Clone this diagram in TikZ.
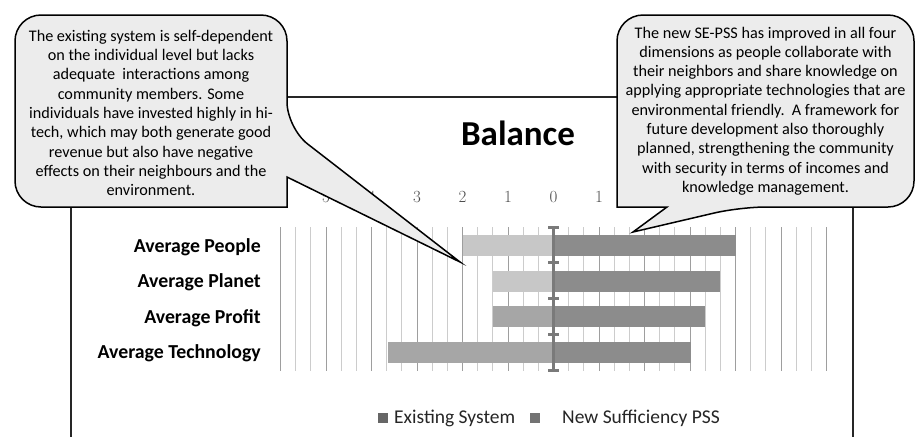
\documentclass[tikz,border=0pt]{standalone}
\usepackage{fontspec}
\newfontfamily\carlito{Carlito}
\definecolor{exlight}{gray}{0.78}
\definecolor{exdark}{gray}{0.65}
\definecolor{newbar}{gray}{0.55}
\definecolor{axisgray}{gray}{0.48}
\definecolor{majorgrid}{gray}{0.62}
\definecolor{minorgrid}{gray}{0.80}
\definecolor{notefill}{gray}{0.925}
\begin{document}
\begin{tikzpicture}[x=1pt,y=-1pt,
  frameline/.style={draw=black!85, line width=1.4pt},
  majorline/.style={draw=majorgrid, line width=1pt},
  minorline/.style={draw=minorgrid, line width=0.9pt},
  calloutshape/.style={fill=notefill, draw=black, line width=1.5pt, line join=miter},
  callouttext/.style={align=center, inner sep=0pt, font=\carlito\fontsize{16.2}{19.3}\selectfont},
  catlabel/.style={anchor=base east, inner sep=0pt, font=\carlito\bfseries\fontsize{19.8}{22}\selectfont},
  ticklabel/.style={anchor=base, inner sep=0pt, text=black!70, font=\fontsize{17}{20}\selectfont},
  titlelabel/.style={anchor=base, inner sep=0pt, font=\carlito\bfseries\fontsize{35}{40}\selectfont},
  legtext/.style={anchor=base west, inner sep=0pt, text=black!85, font=\carlito\fontsize{19.5}{22}\selectfont},
  legsq/.style={minimum size=10pt, inner sep=0pt, draw=none},
]
\useasboundingbox (0,0) rectangle (916,437);
\fill[white] (0,0) rectangle (916,437);

% chart frame (bottom edge lies below the page)
\draw[frameline] (71,97) -- (853,97);
\draw[frameline] (71,97) -- (71,437);
\draw[frameline] (853,97) -- (853,437);

% vertical grid: one line every third of a unit, from -6 to 6
\foreach \k in {-18,...,18} {
  \pgfmathsetmacro{\gx}{553.5+45.5*\k/3}
  \pgfmathtruncatemacro{\m}{mod(abs(\k),3)}
  \ifnum\m=0
    \draw[majorline] (\gx,227) -- (\gx,371);
  \else
    \draw[minorline] (\gx,227) -- (\gx,371);
  \fi
}

% bars: existing system to the left of zero, new PSS to the right
\foreach \yc/\ev/\nv/\ec in {245.5/-2/4/exlight, 281/-1.333/3.667/exlight, 316.5/-1.333/3.333/exdark, 352.5/-3.64/3.02/exdark} {
  \fill[\ec] ({553.5+45.5*\ev},{\yc-10.5}) rectangle (553.5,{\yc+10.5});
  \fill[newbar] (553.5,{\yc-10.5}) rectangle ({553.5+45.5*\nv},{\yc+10.5});
}

% zero axis with category ticks
\draw[axisgray, line width=3.5pt] (553.5,227) -- (553.5,371);
\foreach \ty in {227,262.8,298.5,334.2,370} {
  \draw[axisgray, line width=3pt] (548,\ty) -- (559,\ty);
}

% axis values
\foreach \v/\t [count=\i] in {-6/6,-5/5,-4/4,-3/3,-2/2,-1/1,0/0,1/1} {
  \node[ticklabel] (tick\i) at ({553.5+45.5*\v},202) {\t};
}

% category labels
\node[catlabel] (people) at (261,252) {Average People};
\node[catlabel] (planet) at (261,287.5) {Average Planet};
\node[catlabel] (profit) at (261,323) {Average Profit};
\node[catlabel] (tech) at (261,358.5) {Average Technology};

% title
\node[titlelabel] (title) at (518,145) {Balance};

% legend
\node[legsq, fill=black!60] (sqex) at (382.5,418) {};
\node[legtext] (legex) at (394,423) {Existing System};
\node[legsq, fill=black!55] (sqnew) at (535,418) {};
\node[legtext] (legnew) at (562,423) {New Sufficiency PSS};

% left note
\coordinate (ltip) at (460,262);
\path[calloutshape] (150,15) [rounded corners=26pt] -- (287,15) -- (287,128)
  [sharp corners] -- (ltip) -- (287,177) -- (287,207)
  [rounded corners=26pt] -- (15,207) -- (15,15) -- cycle;
\node[callouttext] (lnote) at (151,113) {The existing system is self-dependent\\
on the individual level but lacks\\
adequate\ \ interactions among\\
community members. Some\\
individuals have invested highly in hi-\\
tech, which may both generate good\\
revenue but also have negative\\
effects on their neighbours and the\\
environment.};

% right note
\coordinate (rtip) at (633,232);
\path[calloutshape] (765,15) [rounded corners=26pt] -- (914,15) -- (914,207) -- (740,207)
  [sharp corners] -- (rtip) -- (667,207) -- (617,207)
  [rounded corners=26pt] -- (617,15) -- cycle;
\node[callouttext] (rnote) at (765.5,111) {The new SE-PSS has improved in all four\\
dimensions as people collaborate with\\
their neighbors and share knowledge on\\
applying appropriate technologies that are\\
environmental friendly.\ \ A framework for\\
future development also thoroughly\\
planned, strengthening the community\\
with security in terms of incomes and\\
knowledge management.};
\end{tikzpicture}
\end{document}
